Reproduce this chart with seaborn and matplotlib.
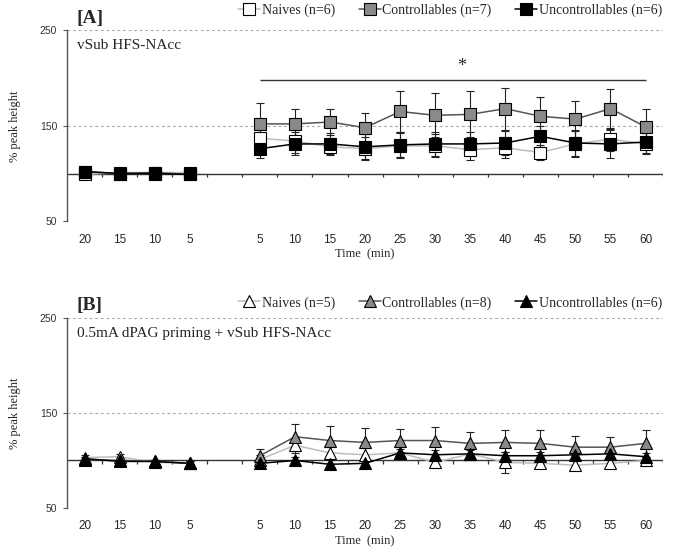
import numpy as np
import pandas as pd
import matplotlib
matplotlib.use('Agg')
import matplotlib.pyplot as plt
import seaborn as sns

# time labels: baseline (min before) and post-HFS (min after)
pre_labels = ['20', '15', '10', '5']
post_labels = ['5', '10', '15', '20', '25', '30', '35', '40', '45', '50', '55', '60']

# panel A (squares)
naive_a = [99, 101, 101, 101, 137, 134, 128, 126, 129, 129, 125, 127, 122, 131, 136, 131]
naive_a_err = [3, 2, 2, 3, 12, 12, 9, 12, 13, 12, 11, 11, 8, 14, 12, 11]
ctrl_a = [102, 100, 101, 99, 152, 152, 154, 148, 165, 161, 162, 168, 160, 157, 168, 149]
ctrl_a_err = [3, 1, 2, 4, 22, 16, 14, 15, 21, 23, 24, 22, 20, 19, 21, 19]
unc_a = [102, 100, 100, 99, 126, 131, 131, 128, 130, 131, 131, 132, 139, 132, 131, 133]
unc_a_err = [2, 1, 2, 2, 10, 12, 11, 13, 13, 13, 12, 13, 11, 14, 15, 12]

# panel B (triangles)
naive_b = [103, 104, 98, 97, 101, 116, 108, 106, 108, 98, 107, 98, 97, 95, 97, 100]
naive_b_err = [3, 3, 2, 2, 5, 8, 8, 7, 6, 5, 5, 11, 5, 5, 5, 4]
ctrl_b = [101, 100, 99, 97, 105, 125, 121, 119, 121, 121, 118, 119, 118, 114, 114, 118]
ctrl_b_err = [3, 2, 2, 2, 7, 13, 15, 15, 12, 14, 12, 13, 14, 12, 11, 14]
unc_b = [102, 99, 99, 97, 97, 100, 96, 97, 108, 106, 107, 105, 105, 106, 107, 104]
unc_b_err = [2, 2, 2, 2, 4, 4, 4, 5, 4, 5, 4, 4, 4, 4, 4, 4]

groups_a = ['Naives (n=6)', 'Controllables (n=7)', 'Uncontrollables (n=6)']
groups_b = ['Naives (n=5)', 'Controllables (n=8)', 'Uncontrollables (n=6)']

sns.set_style('white')
plt.rcParams['font.family'] = ['Liberation Serif', 'DejaVu Serif']

tick_labels = pre_labels + [''] + post_labels
pos = np.array(list(range(len(pre_labels))) +
               list(range(len(pre_labels) + 1, len(tick_labels))))
seg = np.array([0] * len(pre_labels) + [1] * len(post_labels))

styles = [
    dict(line='#bdbdbd', face='white'),
    dict(line='#555555', face='#8a8a8a'),
    dict(line='black', face='black'),
]

fig = plt.figure(figsize=(6.75, 5.53), dpi=100)
ax_a = fig.add_axes([0.0993, 0.600, 0.883, 0.345])
ax_b = fig.add_axes([0.0993, 0.0814, 0.883, 0.3436])


def draw_panel(ax, series, errs, names, marker, msize, letter, note, leg_y):
    for vals, err, name, st in zip(series, errs, names, styles):
        df = pd.DataFrame({'x': pos, 'y': vals, 'seg': seg})
        ax.errorbar(pos, vals, yerr=err, fmt='none', ecolor='#222222',
                    elinewidth=0.8, capsize=3, capthick=0.8, zorder=2)
        sns.lineplot(data=df, x='x', y='y', units='seg', estimator=None,
                     color=st['line'], lw=1.1, marker=marker, markersize=msize,
                     markerfacecolor=st['face'], markeredgecolor='black',
                     markeredgewidth=0.8, label=name, ax=ax, zorder=3)

    ax.set_xlim(-0.5, len(tick_labels) - 0.5)
    ax.set_ylim(50, 250)
    ax.set_yticks([50, 150, 250])
    ax.set_xticks(range(len(tick_labels)))
    ax.set_xticklabels(tick_labels, family='Liberation Sans', fontsize=8.5)
    for t in ax.get_yticklabels():
        t.set_family('Liberation Sans')
        t.set_fontsize(7.5)
    ax.tick_params(axis='x', length=0, pad=9)
    ax.tick_params(axis='y', length=3, width=0.8, color='#555555', pad=4,
                   left=True, labelcolor='#333333')
    ax.grid(False)
    for yv in [50, 150, 250]:
        ax.axhline(yv, color='#aaaaaa', lw=0.8, ls=(0, (2.5, 2.5)), zorder=0)
    ax.axhline(100, color='#333333', lw=1.0, zorder=1)
    bounds = np.arange(len(tick_labels) + 1) - 0.5
    ax.vlines(bounds[1:], 96, 100, color='#333333', lw=0.9, zorder=1)
    for s in ['top', 'right', 'bottom']:
        ax.spines[s].set_visible(False)
    ax.spines['left'].set_color('#555555')
    ax.spines['left'].set_linewidth(1.0)

    ax.set_xlabel('Time  (min)', fontsize=9, labelpad=2)
    ax.set_ylabel('% peak height', fontsize=9)
    ax.yaxis.set_label_coords(-0.078, 0.5)

    ax.text(0.016, 1.02, letter, transform=ax.transAxes, fontsize=14,
            fontweight='bold', va='bottom', ha='left')
    ax.text(0.016, 0.92, note, transform=ax.transAxes, fontsize=11,
            va='center', ha='left')

    # one legend entry per group (units split each group into two lines)
    handles, labels = ax.get_legend_handles_labels()
    seen = {}
    for h, l in zip(handles, labels):
        seen.setdefault(l, h)
    ax.legend(list(seen.values()), list(seen.keys()), loc='lower right',
              bbox_to_anchor=(1.01, leg_y), ncol=3, frameon=False, fontsize=10,
              handlelength=1.6, handletextpad=0.1, columnspacing=1.7,
              borderaxespad=0.1, numpoints=1)


draw_panel(ax_a, [naive_a, ctrl_a, unc_a], [naive_a_err, ctrl_a_err, unc_a_err],
           groups_a, 's', 8, '[A]', 'vSub HFS-NAcc', 1.035)
draw_panel(ax_b, [naive_b, ctrl_b, unc_b], [naive_b_err, ctrl_b_err, unc_b_err],
           groups_b, '^', 8.5, '[B]', '0.5mA dPAG priming + vSub HFS-NAcc', 1.008)

# significance bar over the post-HFS period in panel A
ax_a.hlines(198, pos[len(pre_labels)], pos[-1], color='#333333', lw=1.0)
ax_a.text((pos[len(pre_labels)] + pos[-1]) / 2 + 0.25, 203, '*',
          ha='center', va='bottom', fontsize=13)

fig.savefig('out.png', dpi=100)
